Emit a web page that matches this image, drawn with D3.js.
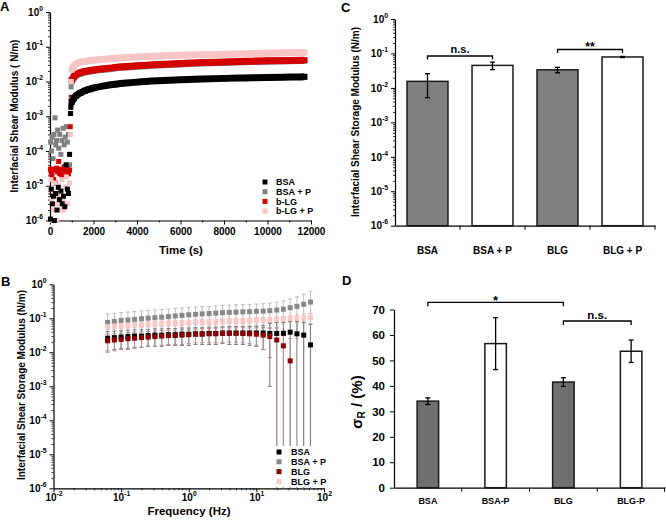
<!DOCTYPE html>
<html><head><meta charset="utf-8">
<script src="https://cdn.jsdelivr.net/npm/d3@7"></script>
<style>
body{margin:0;background:#fff}
svg{display:block}
text{font-family:"Liberation Sans",Arial,sans-serif;font-weight:bold;fill:#000}
</style>
</head><body>
<svg id="c" width="666" height="525"></svg>
<script>
// ---------------- Panel A data ----------------
const seriesA = ["BSA", "BSA + P", "b-LG", "b-LG + P"];
const colorsA = ["#000000", "#808080", "#d40000", "#f8c4c4"];
const timeCurve = [1000,1100,1200,1400,1600,1800,2000,2500,3000,3500,4000,5000,6000,7000,8000,9000,10000,11000,11700];
const bsaCurve  = [2.6e-3,3.3e-3,3.9e-3,4.7e-3,5.4e-3,6.0e-3,6.5e-3,7.5e-3,8.3e-3,9.0e-3,9.6e-3,1.05e-2,1.12e-2,1.18e-2,1.23e-2,1.27e-2,1.31e-2,1.34e-2,1.36e-2];
const bsapCurve = [1.0e-2,1.3e-2,1.5e-2,1.7e-2,1.85e-2,1.95e-2,2.05e-2,2.25e-2,2.45e-2,2.6e-2,2.75e-2,3.0e-2,3.2e-2,3.4e-2,3.55e-2,3.7e-2,3.85e-2,3.95e-2,4.0e-2];
const blgCurve  = [1.1e-2,1.4e-2,1.6e-2,1.8e-2,1.95e-2,2.05e-2,2.15e-2,2.35e-2,2.55e-2,2.7e-2,2.85e-2,3.1e-2,3.3e-2,3.5e-2,3.65e-2,3.8e-2,3.95e-2,4.05e-2,4.1e-2];
const blgpCurve = [2.2e-2,2.8e-2,3.2e-2,3.6e-2,3.8e-2,4.0e-2,4.1e-2,4.4e-2,4.7e-2,4.9e-2,5.1e-2,5.4e-2,5.7e-2,5.9e-2,6.1e-2,6.3e-2,6.5e-2,6.7e-2,6.8e-2];
// early (noisy) points
const bsaScatT  = [20,60,110,160,200,260,320,380,430,500,560,620,680,740,800,850,900,940,960,980];
const bsaScatV  = [1.1e-6,8e-6,3e-6,5e-6,1e-6,6e-6,2e-6,9e-6,4e-6,7e-6,3e-6,5e-6,2.5e-6,4e-5,8e-6,6e-6,8e-5,1.2e-3,1.8e-3,2.4e-3];
const bsapScatT = [30,70,100,140,180,230,260,300,350,400,450,500,550,600,650,700,750,800,850,900,950,970];
const bsapScatV = [1.8e-4,1e-4,2.5e-4,6e-5,3e-4,9e-4,1.5e-4,2e-4,4e-4,1.2e-4,3e-4,8e-5,2e-4,4.5e-4,1.5e-4,2.5e-4,5e-4,1.8e-4,3e-4,4e-5,2e-3,7e-3];
const blgScatT  = [20,50,90,130,170,210,250,300,350,400,450,500,550,600,650,700,750,800,850,900,930,950,975];
const blgScatV  = [3e-5,2.5e-5,2e-5,3e-5,1.5e-5,2.8e-5,1.2e-5,3.2e-5,2.5e-5,5e-5,2.2e-5,3e-5,2e-5,2.8e-5,3.5e-5,2e-5,2.6e-5,3e-5,2.2e-5,2.8e-5,5e-4,1.2e-3,3.5e-3];
const blgpScatT = [10,40,80,120,160,200,240,280,320,360,400,450,500,550,600,650,700,750,800,850,900,940,960,980];
const blgpScatV = [8e-6,1.5e-5,4e-6,1e-6,2e-6,6e-6,1.2e-5,3e-6,1e-6,5e-6,1e-5,2e-6,7e-6,1.5e-5,4e-6,2e-6,9e-6,1.8e-5,3e-6,6e-6,1.2e-5,3e-4,3e-3,1e-2];
const timeTicks = [0,2000,4000,6000,8000,10000,12000];

// ---------------- Panel B data ----------------
const seriesB = ["BSA", "BSA + P", "BLG", "BLG + P"];
const colorsB = ["#000000", "#888888", "#8b0000", "#ffc6c6"];
const errColorsB = ["#7a7a7a", "#bdbdbd", "#b49090", "#e8b4b4"];
const freq = [0.0631,0.0794,0.1,0.126,0.158,0.2,0.251,0.316,0.398,0.501,0.631,0.794,1,1.26,1.58,2,2.51,3.16,3.98,5.01,6.31,7.94,10,12.6,15.8,20,25.1,31.6,39.8,50.1,63.1];
const bsaB     = [0.026,0.027,0.028,0.029,0.030,0.030,0.031,0.032,0.032,0.033,0.033,0.034,0.034,0.035,0.035,0.036,0.036,0.037,0.037,0.037,0.037,0.037,0.037,0.037,0.036,0.036,0.036,0.039,0.035,0.032,0.0165];
const bsaBErr  = [0.015,0.015,0.015,0.016,0.016,0.016,0.016,0.017,0.017,0.017,0.017,0.018,0.018,0.018,0.018,0.019,0.019,0.019,0.020,0.020,0.020,0.021,0.022,0.025,0.035,0.040,0.040,0.042,0.045,0.045,0.050];
const bsapB    = [0.076,0.081,0.086,0.089,0.093,0.097,0.101,0.104,0.108,0.112,0.117,0.122,0.127,0.131,0.135,0.138,0.142,0.146,0.149,0.152,0.155,0.157,0.160,0.163,0.168,0.175,0.185,0.205,0.225,0.258,0.30];
const bsapBErr = [0.058,0.060,0.062,0.064,0.066,0.068,0.070,0.072,0.074,0.076,0.078,0.080,0.082,0.084,0.086,0.088,0.090,0.092,0.094,0.096,0.098,0.100,0.104,0.108,0.115,0.125,0.140,0.170,0.200,0.260,0.320];
const blgB     = [0.022,0.023,0.024,0.025,0.026,0.027,0.028,0.029,0.030,0.031,0.031,0.032,0.033,0.034,0.034,0.035,0.035,0.036,0.036,0.036,0.036,0.035,0.034,0.032,0.029,0.023,0.0155,0.0056];
const blgBErr  = [0.012,0.012,0.012,0.013,0.013,0.013,0.013,0.014,0.014,0.014,0.014,0.015,0.015,0.015,0.015,0.016,0.016,0.016,0.016,0.016,0.017,0.017,0.018,0.020,0.022,0.030,0.025,0.020];
const blgpB    = [0.057,0.059,0.061,0.062,0.064,0.065,0.067,0.068,0.070,0.071,0.072,0.074,0.075,0.077,0.078,0.079,0.080,0.082,0.083,0.084,0.085,0.087,0.088,0.089,0.091,0.092,0.095,0.098,0.101,0.103,0.104];
const blgpBErr = [0.010,0.010,0.010,0.010,0.011,0.011,0.011,0.011,0.012,0.012,0.012,0.012,0.012,0.013,0.013,0.013,0.013,0.013,0.014,0.014,0.014,0.014,0.015,0.015,0.016,0.017,0.018,0.020,0.024,0.030,0.035];
const freqTicks = [0.01,0.1,1,10,100];

// ---------------- Panel C data ----------------
const catsC = ["BSA", "BSA + P", "BLG", "BLG + P"];
const modC = [0.0155, 0.045, 0.0335, 0.079];
const modCErr = [0.0103, 0.011, 0.006, 0.003];
const fillC = ["#808080", "#ffffff", "#808080", "#ffffff"];

// ---------------- Panel D data ----------------
const catsD = ["BSA", "BSA-P", "BLG", "BLG-P"];
const sigD = [34.0, 56.6, 41.5, 53.6];
const sigDErr = [1.3, 10.2, 1.7, 4.4];
const fillD = ["#6f6f6f", "#ffffff", "#6f6f6f", "#ffffff"];
const sigDTicks = [0,10,20,30,40,50,60,70];

const logMajors = [1e-6,1e-5,1e-4,1e-3,1e-2,1e-1,1];

// ---------------- helpers ----------------
const svg = d3.select("#c");
function minorLog(lo, hi) {
  const out = [];
  for (let e = lo; e < hi; e++) for (let k = 2; k <= 9; k++) out.push(k * Math.pow(10, e));
  return out;
}
function supLabels(g, size) {
  g.selectAll(".tick text").each(function(d) {
    const e = Math.round(Math.log10(d));
    const t = d3.select(this);
    t.text("10").attr("font-size", size);
    t.append("tspan").attr("dy", -5).attr("font-size", size * 0.68).text(e);
  });
}
function styleAxis(g) {
  g.select(".domain").attr("stroke", "#000").attr("stroke-width", 1.2);
  g.selectAll(".tick line").attr("stroke", "#000").attr("stroke-width", 1);
}
function logYAxis(y, x0, size, minors) {
  const g = svg.append("g").attr("transform", `translate(${x0},0)`)
    .call(d3.axisLeft(y).tickValues(logMajors).tickSize(4).tickSizeOuter(0).tickPadding(3));
  g.selectAll(".tick text").attr("font-family", "Liberation Sans, Arial").attr("font-weight", "bold");
  supLabels(g, size);
  styleAxis(g);
  if (minors) {
    const m = svg.append("g").attr("transform", `translate(${x0},0)`)
      .call(d3.axisLeft(y).tickValues(minorLog(-6, 0)).tickSize(2).tickFormat(""));
    m.select(".domain").remove();
    m.selectAll(".tick line").attr("stroke", "#000").attr("stroke-width", 0.8);
  }
  return g;
}
function marker(g, x, y, s, c) {
  g.append("rect").attr("x", x - s / 2).attr("y", y - s / 2).attr("width", s).attr("height", s).attr("fill", c);
}

// ================= Panel A =================
const xA = d3.scaleLinear().domain([0, 12000]).range([50, 311]);
const yA = d3.scaleLog().domain([1e-6, 1]).range([220.5, 12]);
{
  const gx = svg.append("g").attr("transform", "translate(0,220.5)")
    .call(d3.axisBottom(xA).tickValues(timeTicks).tickFormat(d3.format("d")).tickSize(4).tickSizeOuter(0).tickPadding(3));
  gx.selectAll(".tick text").attr("font-size", 10).attr("font-family", "Liberation Sans, Arial").attr("font-weight", "bold");
  styleAxis(gx);
  const gm = svg.append("g").attr("transform", "translate(0,220.5)")
    .call(d3.axisBottom(xA).tickValues([1000,3000,5000,7000,9000,11000]).tickSize(2).tickFormat(""));
  gm.select(".domain").remove();
  gm.selectAll(".tick line").attr("stroke", "#000");
  logYAxis(yA, 50, 10, true);

  const curves = [bsapCurve, blgCurve, blgpCurve, bsaCurve];
  const scatT = [bsapScatT, blgScatT, blgpScatT, bsaScatT];
  const scatV = [bsapScatV, blgScatV, blgpScatV, bsaScatV];
  const idx = [1, 2, 3, 0];
  const plot = svg.append("g");
  const line = d3.line().x((d, i) => xA(timeCurve[i])).y(d => yA(d)).curve(d3.curveMonotoneX);
  idx.forEach((si, k) => {
    const c = colorsA[si];
    scatT[k].forEach((t, i) => marker(plot, xA(t), yA(scatV[k][i]), 5, c));
    plot.append("path").attr("d", line(curves[k])).attr("fill", "none")
      .attr("stroke", c).attr("stroke-width", 7);
    curves[k].forEach((v, i) => marker(plot, xA(timeCurve[i]), yA(v), 6, c));
  });

  // legend
  const lg = svg.append("g");
  seriesA.forEach((s, i) => {
    const yy = 182 + i * 9.7;
    marker(lg, 265, yy, 5, colorsA[i]);
    lg.append("text").attr("x", 276).attr("y", yy + 3.3).attr("font-size", 9).text(s);
  });
  svg.append("text").attr("x", 181).attr("y", 254).attr("text-anchor", "middle").attr("font-size", 11.5).text("Time (s)");
  svg.append("text").attr("transform", "translate(18,116) rotate(-90)").attr("text-anchor", "middle")
    .attr("font-size", 10).text("Interfacial Shear Modulus ( N/m)");
  svg.append("text").attr("x", 0).attr("y", 11).attr("font-size", 13).text("A");
}

// ================= Panel B =================
const xB = d3.scaleLog().domain([0.01, 100]).range([53.5, 324]);
const yB = d3.scaleLog().domain([1e-6, 1]).range([488.3, 284.3]);
{
  const gx = svg.append("g").attr("transform", "translate(0,488.3)")
    .call(d3.axisBottom(xB).tickValues(freqTicks).tickSize(4).tickSizeOuter(0).tickPadding(2));
  gx.selectAll(".tick text").attr("font-family", "Liberation Sans, Arial").attr("font-weight", "bold");
  supLabels(gx, 10);
  styleAxis(gx);
  const gm = svg.append("g").attr("transform", "translate(0,488.3)")
    .call(d3.axisBottom(xB).tickValues(minorLog(-2, 2)).tickSize(2).tickFormat(""));
  gm.select(".domain").remove();
  gm.selectAll(".tick line").attr("stroke", "#000").attr("stroke-width", 0.8);
  logYAxis(yB, 53.5, 10, true);

  const vals = [bsaB, bsapB, blgB, blgpB];
  const errs = [bsaBErr, bsapBErr, blgBErr, blgpBErr];
  const plot = svg.append("g");
  const bottom = yB(1e-6);
  // error bars
  [1, 3, 0, 2].forEach(si => {
    vals[si].forEach((v, i) => {
      const x = xB(freq[i]);
      const hi = yB(v + errs[si][i]);
      const loV = v - errs[si][i];
      const lo = loV > 1e-6 ? yB(loV) : bottom;
      const c = errColorsB[si];
      plot.append("line").attr("x1", x).attr("x2", x).attr("y1", hi).attr("y2", lo).attr("stroke", c).attr("stroke-width", 1);
      plot.append("line").attr("x1", x - 2).attr("x2", x + 2).attr("y1", hi).attr("y2", hi).attr("stroke", c).attr("stroke-width", 1);
      if (loV > 1e-6) plot.append("line").attr("x1", x - 2).attr("x2", x + 2).attr("y1", lo).attr("y2", lo).attr("stroke", c).attr("stroke-width", 1);
    });
  });
  [1, 3, 0, 2].forEach(si => {
    vals[si].forEach((v, i) => marker(plot, xB(freq[i]), yB(v), 5, colorsB[si]));
  });
  // legend
  const lg = svg.append("g");
  lg.append("rect").attr("x", 272).attr("y", 446).attr("width", 50).attr("height", 41).attr("fill", "#fff");
  seriesB.forEach((s, i) => {
    const yy = 452 + i * 9.8;
    marker(lg, 279, yy, 5, colorsB[i]);
    lg.append("text").attr("x", 291).attr("y", yy + 3.3).attr("font-size", 9).text(s);
  });
  svg.append("text").attr("x", 189).attr("y", 515).attr("text-anchor", "middle").attr("font-size", 11.5).text("Frequency (Hz)");
  svg.append("text").attr("transform", "translate(25,385) rotate(-90)").attr("text-anchor", "middle")
    .attr("font-size", 10).text("Interfacial Shear Storage Modulus (N/m)");
  svg.append("text").attr("x", 1).attr("y", 286).attr("font-size", 13).text("B");
}

// ================= Panel C =================
const xC = d3.scaleBand().domain(catsC).range([395, 655]).paddingInner(0).paddingOuter(0);
const yC = d3.scaleLog().domain([1e-6, 1]).range([225.7, 19]);
{
  logYAxis(yC, 395, 10, true);
  const gx = svg.append("g").attr("transform", "translate(0,225.7)")
    .call(d3.axisBottom(xC).tickSize(0).tickPadding(21).tickSizeOuter(0));
  gx.selectAll(".tick text").attr("font-size", 10).attr("font-family", "Liberation Sans, Arial").attr("font-weight", "bold");
  styleAxis(gx);
  catsC.slice(1).concat([null]).forEach((c, i) => {
    const x = c ? xC(c) : xC.range()[1];
    gx.append("line").attr("x1", x).attr("x2", x).attr("y1", 0).attr("y2", 4).attr("stroke", "#000");
  });
  const bw = xC.bandwidth() * 0.63;
  const plot = svg.append("g");
  catsC.forEach((c, i) => {
    const cx = xC(c) + xC.bandwidth() / 2;
    plot.append("rect").attr("x", cx - bw / 2).attr("y", yC(modC[i])).attr("width", bw)
      .attr("height", yC(1e-6) - yC(modC[i])).attr("fill", fillC[i]).attr("stroke", "#1a1a1a").attr("stroke-width", 1.5);
    const hi = yC(modC[i] + modCErr[i]), lo = yC(modC[i] - modCErr[i]);
    plot.append("line").attr("x1", cx).attr("x2", cx).attr("y1", hi).attr("y2", lo).attr("stroke", "#000").attr("stroke-width", 1.3);
    [hi, lo].forEach(yy => plot.append("line").attr("x1", cx - 2.5).attr("x2", cx + 2.5).attr("y1", yy).attr("y2", yy).attr("stroke", "#000").attr("stroke-width", 1.3));
  });
  function bracket(a, b, top, drop, label, ty, fs) {
    const x1 = xC(catsC[a]) + xC.bandwidth() / 2, x2 = xC(catsC[b]) + xC.bandwidth() / 2;
    svg.append("path").attr("d", `M${x1},${top + drop}V${top}H${x2}V${top + drop}`).attr("fill", "none").attr("stroke", "#000").attr("stroke-width", 1.3);
    svg.append("text").attr("x", (x1 + x2) / 2).attr("y", ty).attr("text-anchor", "middle").attr("font-size", fs).text(label);
  }
  bracket(0, 1, 56, 3.5, "n.s.", 53, 11);
  bracket(2, 3, 49.5, 3.5, "**", 51, 12);
  svg.append("text").attr("transform", "translate(359,122) rotate(-90)").attr("text-anchor", "middle")
    .attr("font-size", 10).text("Interfacial Shear Storage Modulus (N/m)");
  svg.append("text").attr("x", 341).attr("y", 12).attr("font-size", 13).text("C");
}

// ================= Panel D =================
const xD = d3.scaleBand().domain(catsD).range([394, 665]).paddingInner(0).paddingOuter(0);
const yD = d3.scaleLinear().domain([0, 70]).range([487.7, 309.5]);
{
  const gy = svg.append("g").attr("transform", "translate(394,0)")
    .call(d3.axisLeft(yD).tickValues(sigDTicks).tickSize(4).tickSizeOuter(0).tickPadding(5));
  gy.selectAll(".tick text").attr("font-size", 11.5).attr("font-family", "Lato, 'Open Sans', sans-serif").attr("font-weight", "bold");
  styleAxis(gy);
  const gx = svg.append("g").attr("transform", "translate(0,487.7)")
    .call(d3.axisBottom(xD).tickSize(0).tickPadding(10).tickSizeOuter(0));
  gx.selectAll(".tick text").attr("font-size", 9).attr("font-family", "Lato, 'Open Sans', sans-serif").attr("font-weight", "bold");
  styleAxis(gx);
  catsD.slice(1).concat([null]).forEach(c => {
    const x = c ? xD(c) : xD.range()[1] - 0.5;
    gx.append("line").attr("x1", x).attr("x2", x).attr("y1", 0).attr("y2", 4).attr("stroke", "#000");
  });
  const bw = 21.5;
  const plot = svg.append("g");
  catsD.forEach((c, i) => {
    const cx = xD(c) + xD.bandwidth() / 2;
    plot.append("rect").attr("x", cx - bw / 2).attr("y", yD(sigD[i])).attr("width", bw)
      .attr("height", yD(0) - yD(sigD[i])).attr("fill", fillD[i]).attr("stroke", "#1a1a1a").attr("stroke-width", 1.5);
    const hi = yD(sigD[i] + sigDErr[i]), lo = yD(sigD[i] - sigDErr[i]);
    plot.append("line").attr("x1", cx).attr("x2", cx).attr("y1", hi).attr("y2", lo).attr("stroke", "#000").attr("stroke-width", 1.3);
    [hi, lo].forEach(yy => plot.append("line").attr("x1", cx - 2.5).attr("x2", cx + 2.5).attr("y1", yy).attr("y2", yy).attr("stroke", "#000").attr("stroke-width", 1.3));
  });
  function bracket(a, b, top, drop, label, ty, fs) {
    const x1 = xD(catsD[a]) + xD.bandwidth() / 2, x2 = xD(catsD[b]) + xD.bandwidth() / 2;
    svg.append("path").attr("d", `M${x1},${top + drop}V${top}H${x2}V${top + drop}`).attr("fill", "none").attr("stroke", "#000").attr("stroke-width", 1.3);
    svg.append("text").attr("x", (x1 + x2) / 2).attr("y", ty).attr("text-anchor", "middle")
      .attr("font-family", "Lato, 'Open Sans', sans-serif").attr("font-size", fs).text(label);
  }
  bracket(0, 2, 302.3, 4, "*", 305, 13);
  bracket(2, 3, 321, 4, "n.s.", 318.5, 11.5);
  const lab = svg.append("text").attr("transform", "translate(362,402) rotate(-90)").attr("text-anchor", "middle")
    .attr("font-family", "'Liberation Serif', 'Times New Roman', serif").attr("font-weight", "normal").attr("font-size", 15);
  lab.append("tspan").text("σ");
  lab.append("tspan").attr("font-size", 10).attr("dy", 3).text("R");
  lab.append("tspan").attr("dy", -3).text(" / (%)");
  svg.append("text").attr("x", 342).attr("y", 285).attr("font-size", 13).text("D");
}
</script>
</body></html>
